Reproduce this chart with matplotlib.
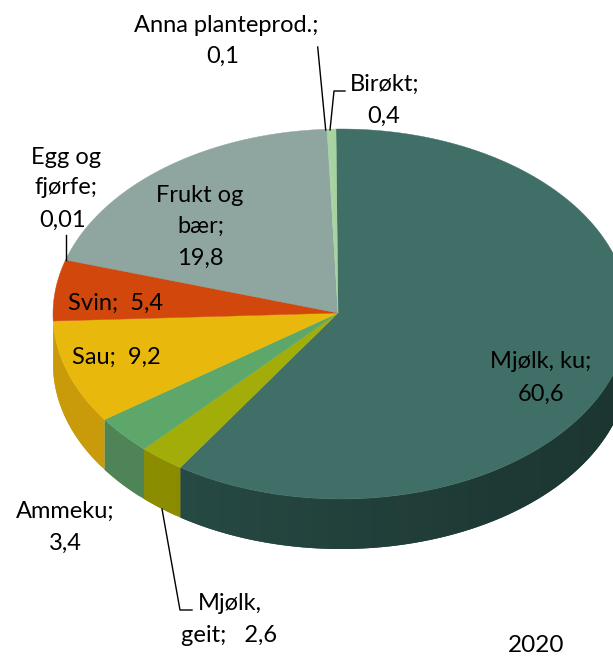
#!/usr/bin/env python3
import matplotlib
matplotlib.use('Agg')
import matplotlib.pyplot as plt
import numpy as np

# data, clockwise from the top
categories = ['Mjølk, ku', 'Mjølk, geit', 'Ammeku', 'Sau', 'Svin',
              'Egg og fjørfe', 'Frukt og bær', 'Anna planteprod.', 'Birøkt']
values = [60.6, 2.6, 3.4, 9.2, 5.4, 0.01, 19.8, 0.1, 0.4]
top_colors = ['#3f6f66', '#a3ad0a', '#5ea76a', '#e8b90c', '#d2480c',
              '#d2480c', '#8fa6a0', '#a6d3a0', '#a6d3a0']
side_colors = ['#274a44', '#8c8c00', '#4f8556', '#c99a0a', '#c99a0a',
               '#a83a0a', '#72857f', '#85a980', '#85a980']
year = '2020'

# pie geometry in pixels (apex sits slightly left of the rim centre)
APEX = (338, 313)
CX, CY = 341, 314
RX, RY = 288, 185
DEPTH = 50
START = -1.0  # degrees clockwise from the top

FONT = 'Lato'
FS = 17


def rim(theta):
    return CX + RX * np.sin(theta), CY - RY * np.cos(theta)


fig = plt.figure(figsize=(6.13, 6.56), dpi=100)
ax = fig.add_axes([0, 0, 1, 1])
ax.set_xlim(0, 613)
ax.set_ylim(656, 0)
ax.axis('off')

edges = START + np.concatenate([[0], np.cumsum(values)]) / sum(values) * 360

# side wall, in thin overlapping strips so it can darken towards the right
for i in range(len(values)):
    a0, a1 = max(edges[i], 90), min(edges[i + 1], 270)
    if a1 <= a0:
        continue
    steps = np.arange(a0, a1 + 1.0, 1.0)
    steps[-1] = a1
    base = np.array(matplotlib.colors.to_rgb(side_colors[i]))
    for t0, t1 in zip(steps[:-1], steps[1:]):
        th = np.linspace(np.radians(t0), np.radians(min(t1 + 1.0, a1)), 4)
        x, y = rim(th)
        shade = np.interp(t0, [90, 150, 215], [0.68, 0.78, 1.0])
        ax.fill(np.r_[x, x[::-1]], np.r_[y, y[::-1] + DEPTH],
                color=base * shade, lw=0, zorder=1)

# top face
for i in range(len(values)):
    th = np.radians(np.linspace(edges[i], edges[i + 1], 200))
    x, y = rim(th)
    ax.fill(np.r_[APEX[0], x], np.r_[APEX[1], y], color=top_colors[i], lw=0.3, zorder=2)

# leader lines
leaders = [
    ([317.7, 325.7], [47, 130]),
    ([330, 334, 345], [130, 91, 91]),
    ([65.7, 65.7], [235, 260]),
    ([162, 180, 192], [509, 610, 610]),
]
for lx, ly in leaders:
    ax.plot(lx, ly, color='black', lw=1.0, zorder=3)

labels = [
    (226, 25, 'Anna planteprod.;'), (223, 56, '0,1'),
    (385, 84, 'Birøkt;'), (384, 116, '0,4'),
    (66, 157, 'Egg og'), (66, 188, 'fjørfe;'), (63, 220, '0,01'),
    (200, 195, 'Frukt og'), (201, 226, 'bær;'), (200, 258, '19,8'),
    (116, 303, 'Svin;  5,4'), (116, 357, 'Sau;  9,2'),
    (541, 362, 'Mjølk, ku;'), (541, 394, '60,6'),
    (65, 511, 'Ammeku;'), (65, 543, '3,4'),
    (230, 604, 'Mjølk,'), (229, 636, 'geit;   2,6'),
]
for x, y, s in labels:
    ax.text(x, y, s, family=FONT, fontsize=FS, color='black',
            ha='center', va='center', zorder=4)
ax.text(536, 645, year, family=FONT, fontsize=17.5, color='black',
        ha='center', va='center', zorder=4)

fig.savefig('out.png', dpi=100, facecolor='white')
